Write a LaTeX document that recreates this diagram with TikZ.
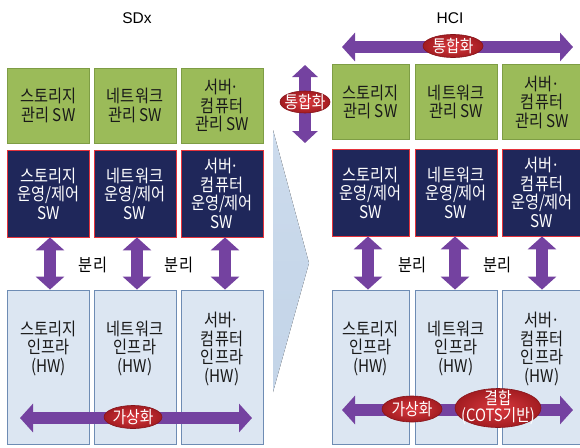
\documentclass[tikz,border=0pt]{standalone}
\usepackage{fontspec}
\setmainfont{Liberation Sans}
\newfontfamily\kr{Noto Sans CJK KR}[FakeStretch=0.87]
\usetikzlibrary{arrows.meta,shapes.geometric,calc}
\definecolor{gfill}{HTML}{9BBB59}
\definecolor{gline}{HTML}{7E9D45}
\definecolor{navy}{HTML}{1F275A}
\definecolor{nline}{HTML}{E5333B}
\definecolor{bfill}{HTML}{DCE6F2}
\definecolor{bline}{HTML}{6E8CB4}
\definecolor{purp}{HTML}{7442A0}
\definecolor{chevtop}{HTML}{CCDBEC}
\definecolor{chevbot}{HTML}{C3D4E8}
\definecolor{redin}{HTML}{D9393E}
\definecolor{redout}{HTML}{A31C21}
\definecolor{redline}{HTML}{86141A}
\newcommand{\mdot}{\kern-1.5pt·}
\begin{document}
\begin{tikzpicture}[x=1pt,y=-1pt,
  box/.style={rectangle, inner sep=0pt, line width=0.8pt, align=center,
    font=\kr\fontsize{17.5}{18.5}\selectfont},
  gbox/.style={box, fill=gfill, draw=gline, minimum height=75pt, text=black!90},
  nbox/.style={box, fill=navy, draw=nline, minimum height=87pt, text=white},
  bbox/.style={box, fill=bfill, draw=bline, minimum height=154pt},
  btext/.style={align=center, inner sep=0pt, text=black!90,
    font=\kr\fontsize{17.5}{18.5}\selectfont},
  title/.style={font=\fontsize{15.5}{18}\selectfont, inner sep=0pt},
  sep/.style={font=\kr\fontsize{17.5}{18}\selectfont, inner sep=0pt},
  parrow/.style={draw=purp, line width=12pt,
    {Triangle[width=28pt,length=13pt]}-{Triangle[width=28pt,length=13pt]}},
  ell/.style={ellipse, inner sep=0pt, draw=redline, line width=0.6pt,
    inner color=redin, outer color=redout},
  etext/.style={text=white, align=center, inner sep=0pt,
    font=\kr\fontsize{17}{17}\selectfont}
]
\useasboundingbox (0,0) rectangle (580,447);

% transition chevron
\fill[top color=chevtop, bottom color=chevbot] (273,130) -- (309,263) -- (273,392) -- cycle;

% titles
\node[title] (sdx) at (137,18) {SDx};
\node[title] (hci) at (450,18) {HCI};

% ---------- left (SDx) ----------
\node[gbox, minimum width=82pt] (lg1) at (48.5,105.5) {스토리지\\관리 SW};
\node[gbox, minimum width=82pt] (lg2) at (135,105.5) {네트워크\\관리 SW};
\node[gbox, minimum width=82pt] (lg3) at (222,105.5) {서버\mdot\\컴퓨터\\관리 SW};

\node[nbox, minimum width=82pt] (ln1) at (48.5,193.5) {스토리지\\운영/제어\\SW};
\node[nbox, minimum width=82pt] (ln2) at (135,193.5) {네트워크\\운영/제어\\SW};
\node[nbox, minimum width=82pt] (ln3) at (222,193.5) {서버\mdot\\컴퓨터\\운영/제어\\SW};

\node[bbox, minimum width=82pt] (lb1) at (48.5,367) {};
\node[bbox, minimum width=82pt] (lb2) at (135,367) {};
\node[bbox, minimum width=82pt] (lb3) at (222,367) {};
\node[btext] (lt1) at ([yshift=19pt]lb1.center) {스토리지\\인프라\\(HW)};
\node[btext] (lt2) at ([yshift=19pt]lb2.center) {네트워크\\인프라\\(HW)};
\node[btext] (lt3) at ([yshift=18pt]lb3.center) {서버\mdot\\컴퓨터\\인프라\\(HW)};

% separation arrows (left)
\draw[parrow] ([xshift=1.5pt]ln1.south) -- ([xshift=1.5pt]lb1.north);
\draw[parrow] ([xshift=2pt]ln2.south) -- ([xshift=2pt]lb2.north);
\draw[parrow] ([xshift=3pt]ln3.south) -- ([xshift=3pt]lb3.north);
\node[sep] (ls1) at (93,265) {분리};
\node[sep] (ls2) at (179,265) {분리};

% virtualization arrow (left)
\coordinate (lv1) at (20,418);
\coordinate (lv2) at (252,418);
\draw[parrow] (lv1) -- (lv2);
\node[ell, minimum width=58pt, minimum height=23pt] (le) at (133,417) {};
\node[etext] (let) at (le) {가상화};

% ---------- right (HCI) ----------
\node[gbox, minimum width=77pt] (rg1) at (370.5,102) {스토리지\\관리 SW};
\node[gbox, minimum width=82pt] (rg2) at (456,102) {네트워크\\관리 SW};
\node[gbox, minimum width=80pt] (rg3) at (542,102) {서버\mdot\\컴퓨터\\관리 SW};

\node[nbox, minimum width=77pt] (rn1) at (370.5,192.5) {스토리지\\운영/제어\\SW};
\node[nbox, minimum width=82pt] (rn2) at (456,192.5) {네트워크\\운영/제어\\SW};
\node[nbox, minimum width=80pt] (rn3) at (542,192.5) {서버\mdot\\컴퓨터\\운영/제어\\SW};

\node[bbox, minimum width=77pt] (rb1) at (370.5,367) {};
\node[bbox, minimum width=82pt] (rb2) at (456,367) {};
\node[bbox, minimum width=80pt] (rb3) at (542,367) {};
\node[btext] (rt1) at ([yshift=19pt]rb1.center) {스토리지\\인프라\\(HW)};
\node[btext] (rt2) at ([yshift=19pt]rb2.center) {네트워크\\인프라\\(HW)};
\node[btext] (rt3) at ([yshift=18pt]rb3.center) {서버\mdot\\컴퓨터\\인프라\\(HW)};

% separation arrows (right)
\draw[parrow] ([xshift=-2.5pt]rn1.south) -- ([xshift=-2.5pt]rb1.north);
\draw[parrow] ([xshift=-1pt]rn2.south) -- ([xshift=-1pt]rb2.north);
\draw[parrow] (rn3.south) -- (rb3.north);
\node[sep] (rs1) at (412,265) {분리};
\node[sep] (rs2) at (497,265) {분리};

% integration arrows
\coordinate (ti1) at (342,47);
\coordinate (ti2) at (573,47);
\draw[parrow] (ti1) -- (ti2);
\node[ell, minimum width=60pt, minimum height=23pt] (te) at (453,46) {};
\node[etext] (tet) at (te) {통합화};

\coordinate (vi1) at (305,65);
\coordinate (vi2) at (305,143);
\draw[parrow, {Triangle[width=25pt,length=12pt]}-{Triangle[width=25pt,length=12pt]}] (vi1) -- (vi2);
\node[ell, minimum width=50pt, minimum height=22pt] (ve) at (305,102) {};
\node[etext] (vet) at (ve) {통합화};

% virtualization / coupling arrow (right)
\coordinate (rv1) at (342,410);
\coordinate (rv2) at (573,410);
\draw[parrow] (rv1) -- (rv2);
\node[ell, minimum width=60pt, minimum height=26pt] (re) at (412,409) {};
\node[etext] (ret) at (re) {가상화};
\node[ell, minimum width=86pt, minimum height=39pt] (ce) at (498,408) {};
\node[etext] (cet) at (ce) {결합\\(COTS기반)};
\end{tikzpicture}
\end{document}
